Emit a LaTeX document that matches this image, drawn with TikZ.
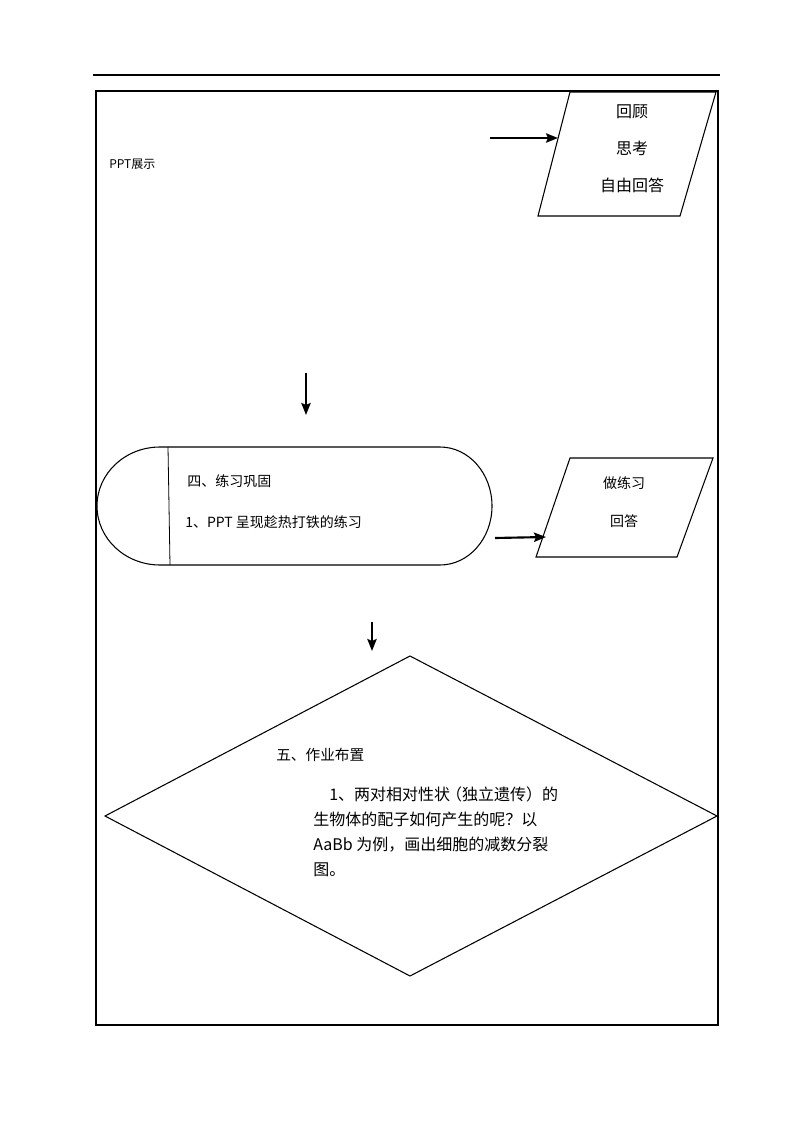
\documentclass[tikz,border=0pt]{standalone}
\usepackage{fontspec}
\setmainfont{Noto Sans CJK SC}
\usetikzlibrary{arrows.meta}
\begin{document}
\begin{tikzpicture}[x=0.75pt,y=-0.75pt,
  outl/.style={draw=black,line width=0.8pt},
  arr/.style={line width=1.6pt,-{Stealth[length=9pt,width=7pt,inset=1.5pt]}},
  lbl/.style={inner sep=0pt,font=\fontsize{10.5}{12}\selectfont},
  biglbl/.style={inner sep=0pt,font=\fontsize{12}{14}\selectfont}]
\useasboundingbox (0,0) rectangle (794,1123);
% header rule
\draw[line width=0.8pt] (93,75) -- (720,75);
% frame
\draw[line width=1.8pt] (96,91) rectangle (718,1025);
% PPT text
\node[lbl,anchor=west,font=\fontsize{9}{11}\selectfont] (ppt) at (109,164) {PPT展示};
% parallelogram 1
\draw[outl] (570,92) -- (716,92) -- (680,216) -- (538,216) -- cycle;
\node[biglbl] (p1a) at (632,112) {回顾};
\node[biglbl] (p1b) at (632,148) {思考};
\node[biglbl] (p1c) at (632,185) {自由回答};
\coordinate (a1s) at (490,138);
\coordinate (a1e) at (558,138);
\draw[arr] (a1s) -- (a1e);
% down arrow 1
\coordinate (a2s) at (306,373);
\coordinate (a2e) at (306,415);
\draw[arr] (a2s) -- (a2e);
% terminator
\draw[outl] (160,447) -- (440,447)
  arc[start angle=-90,end angle=90,x radius=52,y radius=59]
  -- (160,565)
  arc[start angle=90,end angle=270,x radius=63,y radius=59];
\draw[line width=0.6pt] (168,447) -- (170,565);
\node[lbl,anchor=west] (t1) at (187,481) {四、练习巩固};
\node[lbl,anchor=west] (t2) at (185,522) {1、PPT 呈现趁热打铁的练习};
% arrow 3
\coordinate (a3s) at (495,538);
\coordinate (a3e) at (546,537);
\draw[arr] (a3s) -- (a3e);
% parallelogram 2
\draw[outl] (570,458) -- (713,458) -- (677,557) -- (536,557) -- cycle;
\node[lbl] (p2a) at (624,483) {做练习};
\node[lbl] (p2b) at (624,521) {回答};
% down arrow 4
\coordinate (a4s) at (372,622);
\coordinate (a4e) at (372,651);
\draw[arr] (a4s) -- (a4e);
% diamond
\draw[outl] (410,656) -- (717,816) -- (410,976) -- (105,816) -- cycle;
\node[biglbl,anchor=west,font=\fontsize{11}{13}\selectfont] (d1) at (276,755) {五、作业布置};
\node[biglbl,anchor=west] (d2) at (313,794) {\hspace{12pt}1、两对相对性状\kern-3pt（独立遗传）的};
\node[biglbl,anchor=west] (d3) at (313,819) {生物体的配子如何产生的呢？以};
\node[biglbl,anchor=west] (d4) at (313,845) {AaBb 为例，画出细胞的减数分裂};
\node[biglbl,anchor=west] (d5) at (313,870) {图。};
\end{tikzpicture}
\end{document}
